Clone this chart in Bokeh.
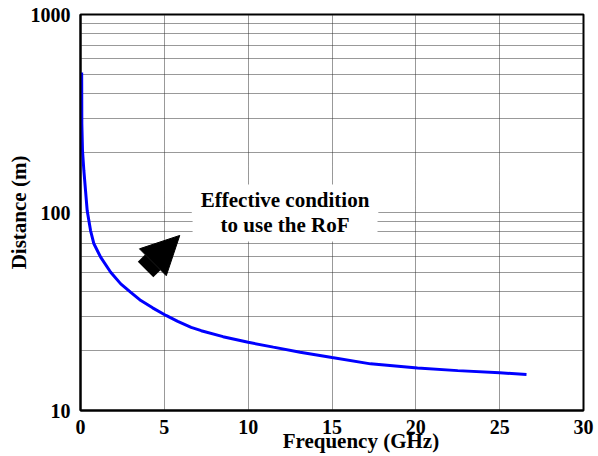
from bokeh.plotting import figure
from bokeh.models import FixedTicker, Label, Arrow, NormalHead, Range1d
from bokeh.embed import file_html
from bokeh.resources import INLINE

# Data
freq = [0.07, 0.08, 0.12, 0.2, 0.3, 0.4, 0.6, 0.8, 1.2, 1.8, 2.4, 3.0, 3.6, 4.3,
        5.1, 5.8, 6.6, 7.2, 8.5, 10.0, 11.5, 13.1, 15.0, 17.3, 20.1, 22.5, 25.0, 26.6]
dist = [510, 280, 205, 163, 129, 102, 81, 69.5, 59.5, 49.9, 43.6, 39.5, 35.9, 33.0,
        30.2, 28.2, 26.3, 25.3, 23.6, 22.1, 20.9, 19.7, 18.5, 17.2, 16.4, 15.9, 15.5, 15.2]

x_ticks = [0, 5, 10, 15, 20, 25, 30]
y_ticks = [10, 100, 1000]
y_minor_ticks = [20, 30, 40, 50, 60, 70, 80, 90, 200, 300, 400, 500, 600, 700, 800, 900]

x_title = "Frequency (GHz)"
y_title = "Distance (m)"
note_lines = ["Effective condition", "to use the RoF"]
note_x = 12.2
note_ys = [115, 86]
arrow_x0, arrow_y0 = 3.88, 51.5
arrow_x1, arrow_y1 = 5.92, 76.6

FONT = "Liberation Serif"

p = figure(width=598, height=456, x_range=Range1d(0, 30), y_range=Range1d(10, 1000),
           y_axis_type="log", output_backend="svg", toolbar_location=None,
           min_border_top=14, min_border_right=15, min_border_left=80, min_border_bottom=46)
p.background_fill_color = "white"
p.border_fill_color = "white"
p.outline_line_color = "black"
p.outline_line_width = 2

p.line(freq, dist, line_color="#0000ff", line_width=3)

for ax in (p.xaxis[0], p.yaxis[0]):
    ax.axis_line_color = "black"
    ax.axis_line_width = 2
    ax.major_tick_out = 0
    ax.major_tick_in = 0
    ax.minor_tick_out = 0
    ax.minor_tick_in = 0
    ax.major_label_text_font = FONT
    ax.major_label_text_font_style = "bold"
    ax.major_label_text_font_size = "20px"
    ax.major_label_text_color = "black"
    ax.axis_label_text_font = FONT
    ax.axis_label_text_font_style = "bold"
    ax.axis_label_text_font_size = "21px"
    ax.axis_label_text_color = "black"

p.xaxis.ticker = FixedTicker(ticks=x_ticks)
p.yaxis.ticker = FixedTicker(ticks=y_ticks, minor_ticks=y_minor_ticks)
p.yaxis.major_label_overrides = {10: "10", 100: "100", 1000: "1000"}
# leading no-break spaces shift the centred title to the right, as in the reference
p.xaxis.axis_label = "\u00a0" * 11 + x_title
p.yaxis.axis_label = y_title
p.xaxis.major_label_standoff = 9
p.xaxis.axis_label_standoff = -8
p.yaxis.major_label_standoff = 10
p.yaxis.axis_label_standoff = -3

p.xgrid.grid_line_color = "#333333"
p.xgrid.grid_line_dash = "1 1"
p.xgrid.grid_line_width = 1
p.ygrid.grid_line_color = "#333333"
p.ygrid.grid_line_dash = "1 1"
p.ygrid.minor_grid_line_color = "#333333"
p.ygrid.minor_grid_line_dash = "1 1"

# annotation box (second line first so the first line's box does not hide it)
for txt, yy, pad in reversed(list(zip(note_lines, note_ys, [(9, 4), (28, 4)]))):
    p.add_layout(Label(x=note_x, y=yy, text=txt, text_font=FONT, text_font_size="21px",
                       text_font_style="bold", text_align="center", text_baseline="middle",
                       text_color="black", background_fill_color="white", padding=pad))

arrow = Arrow(end=NormalHead(size=38, fill_color="black", line_color="black", line_width=1),
              x_start=arrow_x0, y_start=arrow_y0, x_end=arrow_x1, y_end=arrow_y1,
              line_color="black", line_width=22)
p.add_layout(arrow)

open("out.html", "w").write(file_html(p, INLINE))
